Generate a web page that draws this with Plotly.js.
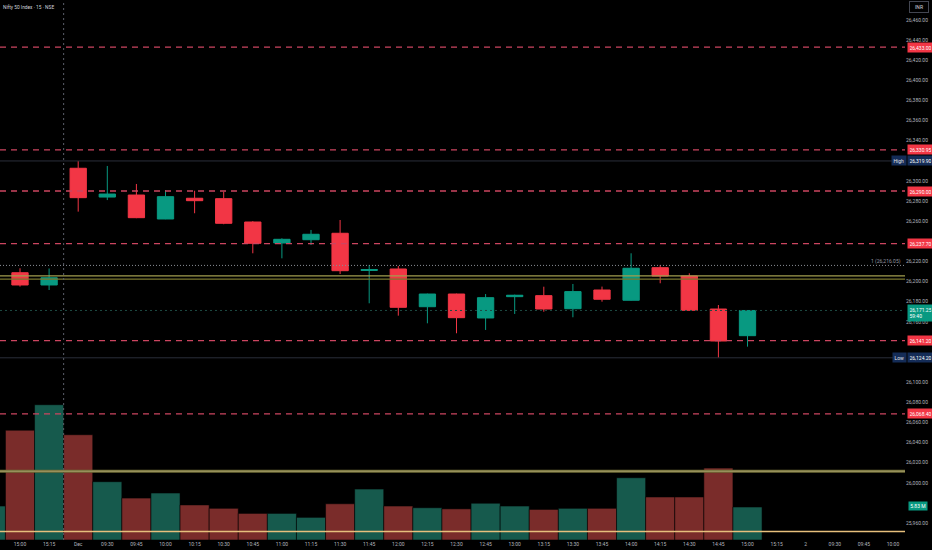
<!DOCTYPE html>
<html><head><meta charset="utf-8">
<script src="https://cdn.plot.ly/plotly-3.0.1.min.js"></script>
<style>html,body{margin:0;padding:0;background:#000;}#chart{width:932px;height:550px;}</style>
</head><body><div id="chart"></div>
<script>
// ---- data ----
const times = ["14:45","15:00","15:15","09:15","09:30","09:45","10:00","10:15","10:30","10:45","11:00","11:15","11:30","11:45","12:00","12:15","12:30","12:45","13:00","13:15","13:30","13:45","14:00","14:15","14:30","14:45","15:00"];
const opens  = [26204.0,26208.8,26196.6,26312.6,26284.0,26286.0,26262.2,26282.8,26282.4,26259.2,26238.3,26241.6,26248.0,26211.0,26212.5,26175.0,26187.6,26163.8,26185.0,26186.0,26173.0,26191.6,26181.4,26213.8,26205.5,26172.7,26146.2];
const highs  = [26210.0,26213.2,26213.0,26319.9,26314.9,26297.0,26291.0,26290.3,26289.3,26260.0,26243.0,26251.3,26261.2,26216.5,26215.5,26188.0,26188.0,26187.6,26187.0,26194.9,26197.6,26195.0,26228.1,26216.5,26208.2,26176.7,26171.25];
const lows   = [26203.0,26195.0,26191.6,26269.5,26281.0,26263.0,26262.0,26267.9,26257.0,26228.1,26223.1,26236.3,26207.5,26178.4,26166.1,26158.5,26148.6,26151.9,26167.8,26170.0,26164.5,26180.0,26181.0,26198.3,26171.0,26124.2,26135.3];
const closes = [26208.8,26196.6,26203.8,26283.4,26287.0,26263.5,26284.4,26280.4,26257.9,26238.0,26242.0,26247.0,26210.8,26212.0,26174.4,26187.6,26164.1,26184.0,26186.4,26172.7,26190.0,26182.4,26213.2,26205.5,26171.4,26140.9,26171.25];
const volumesM = [6.0,19.4,23.9,18.6,10.3,7.4,8.3,6.2,5.6,4.7,4.7,4.0,6.4,9.0,6.0,5.7,5.5,6.5,6.0,5.4,5.6,5.6,11.0,7.6,7.6,12.7,5.83];
const xTickLabels = ["15:00","15:15","Dec","09:30","09:45","10:00","10:15","10:30","10:45","11:00","11:15","11:30","11:45","12:00","12:15","12:30","12:45","13:00","13:15","13:30","13:45","14:00","14:15","14:30","14:45","15:00","15:15","2","09:30","09:45","10:00"];
const yTickVals = [26460,26440,26420,26400,26380,26360,26340,26300,26280,26260,26220,26200,26180,26160,26100,26080,26060,26040,26020,26000,25960];
const redLevels = [26433.00,26330.95,26290.00,26237.70,26141.20,26068.40];
const dayHigh = 26319.90;
const dayLow = 26124.20;
const lastPrice = 26171.25;
const countdown = "59:40";
const markLevel = 26216.05;
const yellowBandTop = [26205.6,26202.4];
const yellowBandLow = 26011.5;
const peachLevel = 25951.6;
const lastVolumeText = "5.83 M";

// ---- build ----
const xs = times.map((t,i)=>i);
const UP = '#089981', DN = '#f23645';
const volColors = closes.map((c,i)=> c>=opens[i] ? '#165a4d' : '#7a2c2a');
const fmt = v => v.toLocaleString('en-US',{minimumFractionDigits:2,maximumFractionDigits:2});

const volTrace = {
  type:'bar', x:xs, y:volumesM, yaxis:'y2', width:1,
  marker:{color:volColors, line:{color:'rgba(0,0,0,0.55)', width:1}},
  hoverinfo:'skip'
};
const candleTrace = {
  type:'candlestick', x:xs, open:opens, high:highs, low:lows, close:closes,
  increasing:{line:{color:UP,width:1}, fillcolor:UP},
  decreasing:{line:{color:DN,width:1}, fillcolor:DN},
  whiskerwidth:0, hoverinfo:'skip'
};

const shapes = [];
const hline = (y, color, width, dash) => shapes.push({type:'line', xref:'paper', x0:0, x1:1, yref:'y', y0:y, y1:y, line:{color:color, width:width, dash:dash||'solid'}});
hline(dayHigh, '#2a2e39', 1);
hline(dayLow, '#2a2e39', 1);
hline(lastPrice, '#1d4a42', 1, '2px,3px');
hline(markLevel, '#8a8d95', 1, '1px,2px');
hline(yellowBandTop[0], '#a29e4e', 1.3);
hline(yellowBandTop[1], '#7a772f', 1.3);
hline(yellowBandLow, '#6f6c36', 3);
hline(yellowBandLow, '#b9b07a', 0.8);
hline(peachLevel, '#e6bf7c', 1.6);
redLevels.forEach(p => hline(p, '#cc4560', 1.3, '6px,5px'));
shapes.push({type:'line', xref:'x', x0:2.5, x1:2.5, yref:'paper', y0:0, y1:1, line:{color:'#5d606b', width:1, dash:'2px,3px'}});

const F = 'Roboto, "Liberation Sans", sans-serif';
const annotations = [];
redLevels.forEach(p => annotations.push({xref:'paper', x:1, xanchor:'left', xshift:2, yref:'y', y:p, text:fmt(p), showarrow:false, font:{family:F,size:5,color:'#ffffff'}, bgcolor:DN, borderpad:1.5, width:22}));
[[dayHigh,'High'],[dayLow,'Low']].forEach(([p,t]) => {
  annotations.push({xref:'paper', x:1, xanchor:'right', xshift:2, yref:'y', y:p, text:t, showarrow:false, font:{family:F,size:5,color:'#e0e3eb'}, bgcolor:'#142c57', borderpad:1.5});
  annotations.push({xref:'paper', x:1, xanchor:'left', xshift:2, yref:'y', y:p, text:fmt(p), showarrow:false, font:{family:F,size:5,color:'#ffffff'}, bgcolor:'#142c57', borderpad:1.5, width:22});
});
annotations.push({xref:'paper', x:1, xanchor:'left', xshift:2, yref:'y', y:lastPrice, yshift:-3, text:fmt(lastPrice)+'<br>'+countdown, showarrow:false, font:{family:F,size:5,color:'#ffffff'}, bgcolor:UP, borderpad:1.5, width:22, align:'left'});
annotations.push({xref:'paper', x:1, xanchor:'right', xshift:-2, yref:'y', y:markLevel, yshift:4, text:'1 ('+fmt(markLevel)+')', showarrow:false, font:{family:F,size:5,color:'#9598a1'}});
annotations.push({xref:'paper', x:1, xanchor:'left', xshift:3, yref:'y2', y:volumesM[volumesM.length-1], yshift:1, text:lastVolumeText, showarrow:false, font:{family:F,size:5,color:'#ffffff'}, bgcolor:UP, borderpad:1.2});
annotations.push({xref:'paper', x:1, xanchor:'left', xshift:4, yref:'paper', y:1, yanchor:'top', yshift:-1, text:'INR', showarrow:false, font:{family:F,size:5,color:'#d1d4dc'}, bgcolor:'#000', bordercolor:'#434651', borderwidth:1, borderpad:2, width:14});
annotations.push({xref:'paper', x:0, xanchor:'left', xshift:1, yref:'paper', y:1, yanchor:'top', yshift:-2, text:'Nifty 50 Index · 15 · NSE', showarrow:false, font:{family:F,size:4.8,color:'#d1d4dc'}});

const x0 = 1 - 20/29.1;
const layout = {
  width:932, height:550,
  margin:{l:0, r:27, t:0, b:10, pad:0},
  paper_bgcolor:'#000', plot_bgcolor:'#000',
  showlegend:false, hovermode:false, dragmode:false,
  boxgap:0.2, bargap:0,
  xaxis:{range:[x0, x0 + 905/29.1], tickvals:xTickLabels.map((t,i)=>i+1), ticktext:xTickLabels,
    tickfont:{family:F,size:5,color:'#b2b5be'}, showgrid:false, zeroline:false, showline:false, ticks:'',
    rangeslider:{visible:false}, fixedrange:true, automargin:false},
  yaxis:{range:[26460 - 520/1.006, 26460 + 20/1.006], side:'right', tickvals:yTickVals, tickformat:',.2f',
    tickfont:{family:F,size:5,color:'#b2b5be'}, showgrid:false, zeroline:false, showline:false, ticks:'',
    fixedrange:true, automargin:false},
  yaxis2:{overlaying:'y', range:[0, 540*5.83/33], visible:false, fixedrange:true},
  shapes:shapes, annotations:annotations
};
Plotly.newPlot('chart', [volTrace, candleTrace], layout, {displayModeBar:false, staticPlot:true});
</script>
</body></html>
